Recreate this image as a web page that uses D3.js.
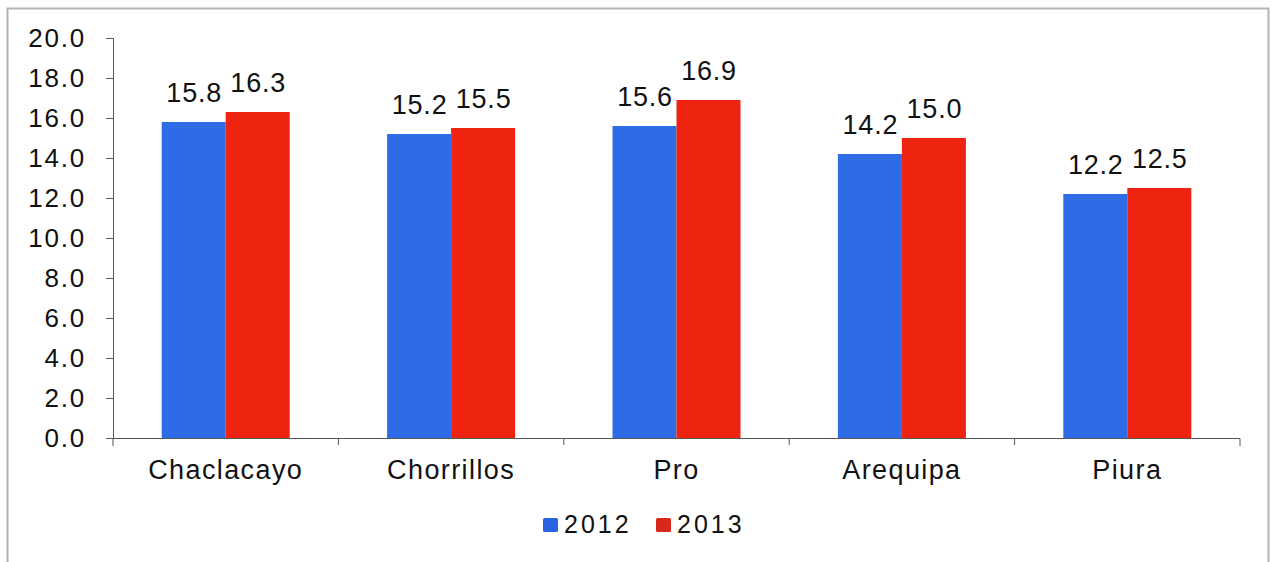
<!DOCTYPE html>
<html>
<head>
<meta charset="utf-8">
<script src="https://cdn.jsdelivr.net/npm/d3@7"></script>
<style>
  body { margin: 0; background: #fff; }
  svg { display: block; font-family: Arial, "Liberation Sans", sans-serif; }
</style>
</head>
<body>
<div id="chart-area"></div>
<script>
// Data
const categories = ['Chaclacayo', 'Chorrillos', 'Pro', 'Arequipa', 'Piura'];
const years = ['2012', '2013'];
const values2012 = [15.8, 15.2, 15.6, 14.2, 12.2];
const values2013 = [16.3, 15.5, 16.9, 15.0, 12.5];
const yTicks = [0, 2, 4, 6, 8, 10, 12, 14, 16, 18, 20];

const width = 1271;
const height = 562;
const margin = { left: 113, right: 31, top: 38, bottom: 124 };
const chartWidth = width - margin.left - margin.right;
const chartHeight = height - margin.top - margin.bottom;

const svg = d3.select('#chart-area')
    .append('svg')
    .attr('width', width)
    .attr('height', height);

// frame
svg.append('path')
    .attr('d', `M7.5,${height} V8.5 H1268.5 V${height}`)
    .attr('fill', 'none')
    .attr('stroke', '#b4b4b8')
    .attr('stroke-width', 2);

const g = svg.append('g')
    .attr('transform', `translate(${margin.left}, ${margin.top})`);

// Scales
const x = d3.scaleBand()
    .domain(categories)
    .range([0, chartWidth]);

const x1 = d3.scaleBand()
    .domain(years)
    .range([0, 128])
    .padding(0);

const y = d3.scaleLinear()
    .domain([0, 20])
    .range([chartHeight, 0]);

const color = d3.scaleOrdinal()
    .domain(years)
    .range(['#2e6be6', '#ee2410']);

const legendColor = d3.scaleOrdinal()
    .domain(years)
    .range(['#2a62e0', '#d8281a']);

const rows = categories.map((c, i) => ({ cat: c, vals: [values2012[i], values2013[i]] }));

// Bars
const groups = g.selectAll('.cat')
    .data(rows)
    .enter()
    .append('g')
    .attr('class', 'cat')
    .attr('transform', (d) => `translate(${x(d.cat) + (x.bandwidth() - 128) / 2}, 0)`);

groups.selectAll('rect')
    .data((d) => d.vals.map((v, i) => ({ year: years[i], v })))
    .enter()
    .append('rect')
    .attr('x', (d) => x1(d.year))
    .attr('width', x1.bandwidth())
    .attr('y', (d) => y(d.v))
    .attr('height', (d) => chartHeight - y(d.v))
    .attr('fill', (d) => color(d.year));

groups.selectAll('text')
    .data((d) => d.vals.map((v, i) => ({ year: years[i], v })))
    .enter()
    .append('text')
    .attr('x', (d) => x1(d.year) + x1.bandwidth() / 2 + 0.5)
    .attr('y', (d) => y(d.v) - 20)
    .attr('text-anchor', 'middle')
    .attr('font-size', '27px')
    .attr('letter-spacing', '0.8px')
    .attr('fill', '#111')
    .text((d) => d3.format('.1f')(d.v));

// Axes
const yAxis = g.append('g')
    .call(d3.axisLeft(y).tickValues(yTicks).tickFormat(d3.format('.1f')).tickSize(7).tickPadding(20));
yAxis.select('.domain').attr('stroke', '#555').attr('d', `M-7,0.5H0.5V${chartHeight}`);
yAxis.selectAll('.tick line').attr('stroke', '#555');
yAxis.selectAll('.tick text')
    .attr('font-size', '26px')
    .attr('letter-spacing', '1.8px')
    .attr('fill', '#111');

const xAxis = g.append('g')
    .attr('transform', `translate(0, ${chartHeight})`)
    .call(d3.axisBottom(x).tickSize(0));
xAxis.select('.domain').attr('stroke', '#555').attr('d', `M0,8V0.5H${chartWidth}V8`);
xAxis.selectAll('.tick text')
    .attr('y', 41)
    .attr('dy', 0)
    .attr('font-size', '27px')
    .attr('letter-spacing', '1.4px')
    .attr('fill', '#111');
xAxis.selectAll('.tick').each(function (d, i) {
    if (i > 0) {
        d3.select(this).append('line')
            .attr('x1', -x.bandwidth() / 2).attr('x2', -x.bandwidth() / 2)
            .attr('y1', 0).attr('y2', 7)
            .attr('stroke', '#555');
    }
});

// Legend
const legend = svg.append('g')
    .attr('transform', 'translate(543, 518)');

years.forEach((yr, i) => {
    const item = legend.append('g')
        .attr('transform', `translate(${i * 113}, 0)`);
    item.append('rect')
        .attr('width', 15)
        .attr('height', 14)
        .attr('rx', 1.5)
        .attr('fill', legendColor(yr));
    item.append('text')
        .attr('x', 21)
        .attr('y', 15)
        .attr('font-size', '25px')
        .attr('letter-spacing', '3px')
        .attr('fill', '#111')
        .text(yr);
});
</script>
</body>
</html>
